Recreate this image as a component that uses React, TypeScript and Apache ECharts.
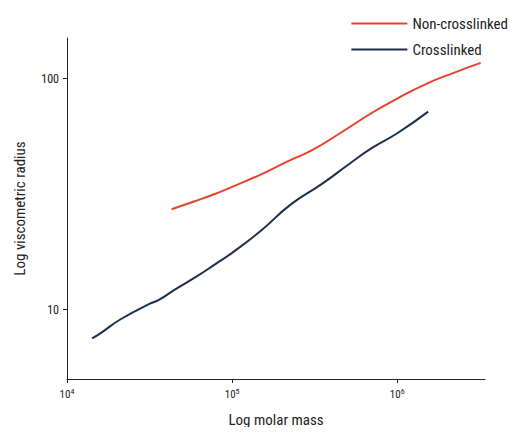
import { useEffect, useRef } from 'react'
import * as echarts from 'echarts'

const nonCrossMass = [43000, 60000, 80000, 100000, 150000, 220000, 305000, 450000, 700000, 1000000, 1500000, 2200000, 3200000]
const nonCrossRadius = [27.2, 29.5, 31.8, 34, 38.5, 44, 49, 58, 71, 82, 95, 106, 117]
const crossMass = [14200, 16000, 21000, 31800, 36000, 45000, 60000, 80000, 100000, 150000, 225000, 350000, 519000, 700000, 1000000, 1540000]
const crossRadius = [7.5, 7.9, 9.05, 10.6, 11, 12.2, 13.8, 15.8, 17.6, 22, 28.4, 35, 43, 50, 58, 72]

const font = '"Liberation Sans Narrow", "Roboto Condensed", "Liberation Sans", Arial, sans-serif'

const zip = (a: number[], b: number[]) => a.map((v, i) => [v, b[i]])

export default function App() {
  const chartRef = useRef<HTMLDivElement>(null)

  useEffect(() => {
    if (!chartRef.current) return
    const chart = echarts.init(chartRef.current, null, { renderer: 'svg' })
    chart.setOption({
      animation: false,
      textStyle: { fontFamily: font },
      grid: { left: 59, right: 34, top: 30, bottom: 48, outerBoundsMode: 'none', containLabel: false },
      legend: {
        right: 6,
        top: 3,
        orient: 'vertical',
        itemWidth: 56,
        itemHeight: 2,
        itemGap: 11,
        icon: 'rect',
        textStyle: { fontSize: 15, color: '#222', fontFamily: font },
        data: ['Non-crosslinked', 'Crosslinked']
      },
      xAxis: {
        type: 'log',
        logBase: 10,
        min: 10000,
        max: 3400000,
        name: 'Log molar mass',
        nameLocation: 'middle',
        nameGap: 33,
        nameTextStyle: { fontSize: 15, color: '#222' },
        axisLine: { lineStyle: { color: '#222' } },
        axisTick: { lineStyle: { color: '#222' }, length: 4 },
        splitLine: { show: false },
        axisLabel: {
          showMinLabel: true,
          showMaxLabel: false,
          color: '#222',
          formatter: (v: number) => `{b|10}{s|${Math.round(Math.log10(v))}}`,
          rich: {
            b: { fontSize: 11, color: '#222', fontFamily: font },
            s: { fontSize: 8, color: '#222', verticalAlign: 'top', padding: [0, 0, 6, 0], fontFamily: font }
          }
        }
      },
      yAxis: {
        type: 'log',
        logBase: 10,
        min: 5,
        max: 150,
        name: 'Log viscometric radius',
        nameLocation: 'middle',
        nameGap: 40,
        nameTextStyle: { fontSize: 15, color: '#222' },
        axisLine: { show: true, lineStyle: { color: '#222' } },
        axisTick: { show: true, lineStyle: { color: '#222' }, length: 4 },
        splitLine: { show: false },
        axisLabel: { showMinLabel: false, showMaxLabel: false, fontSize: 12, color: '#222' }
      },
      series: [
        {
          name: 'Non-crosslinked',
          type: 'line',
          data: zip(nonCrossMass, nonCrossRadius),
          smooth: true,
          showSymbol: false,
          color: '#e8412c',
          lineStyle: { width: 2 }
        },
        {
          name: 'Crosslinked',
          type: 'line',
          data: zip(crossMass, crossRadius),
          smooth: true,
          showSymbol: false,
          color: '#1d2f4a',
          lineStyle: { width: 2 }
        }
      ]
    })
    return () => chart.dispose()
  }, [])

  return <div ref={chartRef} style={{ width: 511, height: 419 }} />
}
